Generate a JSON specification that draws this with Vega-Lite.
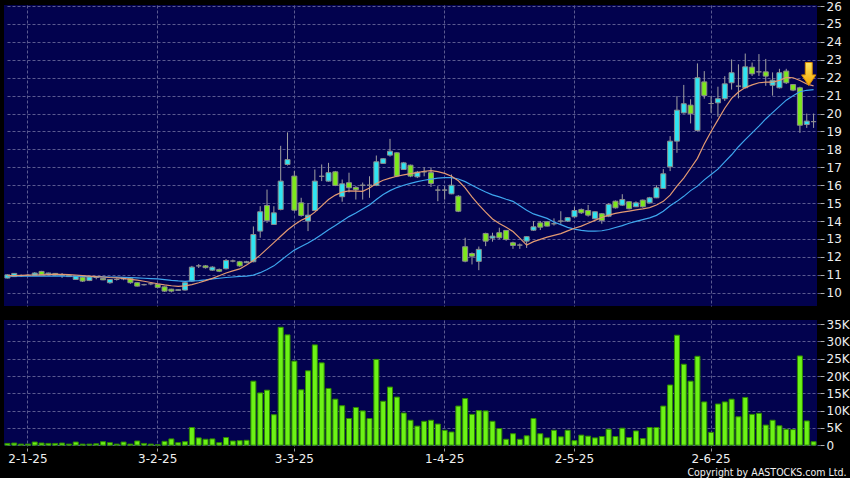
{
"$schema": "https://vega.github.io/schema/vega-lite/v6.json",
"background": "#000000",
"padding": {"left": 4, "top": 0, "right": 0, "bottom": 0},
"spacing": 12,
"config": {
  "view": {"fill": "#02024e", "stroke": null},
  "font": "DejaVu Sans",
  "axisY": {"labelOverlap": false, "labelBound": false, "grid": true, "gridColor": "#5a5a90", "gridDash": [3,2], "domain": false, "tickColor": "#b0b0b0", "tickSize": 4, "offset": 3, "labelPadding": 2, "labelColor": "#eeeeee", "labelFontSize": 12, "labelFont": "DejaVu Sans"}
},
"data": {"values": [
{"d":"27-12-24","o":10.82,"h":11.03,"l":10.8,"c":11.0,"v":500,"m10":10.95,"m20":10.93},
{"d":"30-12-24","o":10.9,"h":11.1,"l":10.88,"c":11.08,"v":600,"m10":10.96,"m20":10.93},
{"d":"31-12-24","o":10.95,"h":11.02,"l":10.88,"c":10.95,"v":300,"m10":10.97,"m20":10.93},
{"d":"2-1-25","o":10.97,"h":11.05,"l":10.92,"c":10.97,"v":300,"m10":10.98,"m20":10.93},
{"d":"3-1-25","o":10.97,"h":11.15,"l":10.95,"c":11.1,"v":900,"m10":10.99,"m20":10.93},
{"d":"6-1-25","o":11.19,"h":11.22,"l":10.98,"c":11.0,"v":600,"m10":11.0,"m20":10.93},
{"d":"7-1-25","o":11.05,"h":11.12,"l":11.0,"c":11.1,"v":500,"m10":11.01,"m20":10.93},
{"d":"8-1-25","o":11.08,"h":11.1,"l":10.95,"c":10.98,"v":500,"m10":11.02,"m20":10.93},
{"d":"9-1-25","o":10.97,"h":11.1,"l":10.83,"c":10.97,"v":600,"m10":11.02,"m20":10.93},
{"d":"10-1-25","o":10.97,"h":11.0,"l":10.88,"c":10.9,"v":300,"m10":11.01,"m20":10.92},
{"d":"13-1-25","o":10.74,"h":10.95,"l":10.72,"c":10.93,"v":900,"m10":10.99,"m20":10.92},
{"d":"14-1-25","o":10.87,"h":10.9,"l":10.6,"c":10.65,"v":300,"m10":10.96,"m20":10.91},
{"d":"15-1-25","o":10.68,"h":10.9,"l":10.65,"c":10.88,"v":300,"m10":10.93,"m20":10.9},
{"d":"16-1-25","o":10.85,"h":10.95,"l":10.75,"c":10.85,"v":400,"m10":10.9,"m20":10.9},
{"d":"17-1-25","o":10.8,"h":10.82,"l":10.7,"c":10.72,"v":1000,"m10":10.88,"m20":10.89},
{"d":"20-1-25","o":10.56,"h":10.76,"l":10.5,"c":10.74,"v":700,"m10":10.85,"m20":10.88},
{"d":"21-1-25","o":10.74,"h":10.8,"l":10.68,"c":10.74,"v":300,"m10":10.83,"m20":10.87},
{"d":"22-1-25","o":10.78,"h":10.85,"l":10.7,"c":10.78,"v":900,"m10":10.8,"m20":10.86},
{"d":"23-1-25","o":10.81,"h":10.85,"l":10.5,"c":10.56,"v":300,"m10":10.75,"m20":10.85},
{"d":"24-1-25","o":10.56,"h":10.58,"l":10.35,"c":10.37,"v":1200,"m10":10.7,"m20":10.83},
{"d":"27-1-25","o":10.45,"h":10.5,"l":10.4,"c":10.45,"v":500,"m10":10.64,"m20":10.81},
{"d":"28-1-25","o":10.5,"h":10.55,"l":10.42,"c":10.5,"v":300,"m10":10.57,"m20":10.79},
{"d":"3-2-25","o":10.47,"h":10.5,"l":10.25,"c":10.3,"v":100,"m10":10.5,"m20":10.77},
{"d":"4-2-25","o":10.33,"h":10.35,"l":10.05,"c":10.09,"v":1100,"m10":10.44,"m20":10.73},
{"d":"5-2-25","o":10.2,"h":10.22,"l":10.02,"c":10.09,"v":1800,"m10":10.39,"m20":10.69},
{"d":"6-2-25","o":10.13,"h":10.2,"l":10.1,"c":10.17,"v":700,"m10":10.36,"m20":10.66},
{"d":"7-2-25","o":10.15,"h":10.6,"l":10.12,"c":10.56,"v":1000,"m10":10.38,"m20":10.64},
{"d":"10-2-25","o":10.65,"h":11.5,"l":10.6,"c":11.43,"v":5100,"m10":10.45,"m20":10.66},
{"d":"11-2-25","o":11.5,"h":11.6,"l":11.38,"c":11.5,"v":2100,"m10":10.56,"m20":10.68},
{"d":"12-2-25","o":11.5,"h":11.55,"l":11.35,"c":11.4,"v":1700,"m10":10.68,"m20":10.72},
{"d":"13-2-25","o":11.26,"h":11.48,"l":11.22,"c":11.43,"v":1800,"m10":10.8,"m20":10.77},
{"d":"14-2-25","o":11.3,"h":11.35,"l":11.15,"c":11.2,"v":700,"m10":10.95,"m20":10.81},
{"d":"17-2-25","o":11.34,"h":11.88,"l":11.3,"c":11.8,"v":2200,"m10":11.1,"m20":10.85},
{"d":"18-2-25","o":11.77,"h":11.85,"l":11.7,"c":11.77,"v":1200,"m10":11.22,"m20":10.88},
{"d":"19-2-25","o":11.73,"h":11.78,"l":11.45,"c":11.5,"v":1300,"m10":11.33,"m20":10.91},
{"d":"20-2-25","o":11.68,"h":11.78,"l":11.65,"c":11.73,"v":1400,"m10":11.55,"m20":10.93},
{"d":"21-2-25","o":11.73,"h":13.7,"l":11.7,"c":13.25,"v":18500,"m10":11.8,"m20":10.98},
{"d":"24-2-25","o":13.44,"h":14.83,"l":13.07,"c":14.52,"v":15100,"m10":12.1,"m20":11.12},
{"d":"25-2-25","o":14.87,"h":15.76,"l":13.9,"c":14.03,"v":15900,"m10":12.45,"m20":11.3},
{"d":"26-2-25","o":13.81,"h":14.83,"l":13.8,"c":14.46,"v":8800,"m10":12.8,"m20":11.5},
{"d":"27-2-25","o":14.65,"h":18.2,"l":14.6,"c":16.23,"v":34100,"m10":13.15,"m20":11.8},
{"d":"28-2-25","o":17.16,"h":18.95,"l":17.1,"c":17.43,"v":31900,"m10":13.5,"m20":12.1},
{"d":"3-3-25","o":16.51,"h":16.79,"l":14.55,"c":14.61,"v":24300,"m10":13.8,"m20":12.38},
{"d":"4-3-25","o":15.02,"h":15.3,"l":14.25,"c":14.31,"v":16000,"m10":14.05,"m20":12.58},
{"d":"5-3-25","o":14.0,"h":15.0,"l":13.44,"c":14.33,"v":21500,"m10":14.22,"m20":12.78},
{"d":"6-3-25","o":14.59,"h":16.88,"l":14.55,"c":16.23,"v":29000,"m10":14.5,"m20":13.0},
{"d":"7-3-25","o":16.5,"h":17.16,"l":16.23,"c":16.5,"v":23800,"m10":14.85,"m20":13.25},
{"d":"10-3-25","o":16.23,"h":17.25,"l":16.2,"c":16.7,"v":16400,"m10":15.2,"m20":13.52},
{"d":"11-3-25","o":16.75,"h":16.8,"l":15.95,"c":15.99,"v":13300,"m10":15.45,"m20":13.75},
{"d":"12-3-25","o":15.36,"h":16.32,"l":15.08,"c":16.08,"v":11400,"m10":15.62,"m20":14.0},
{"d":"13-3-25","o":16.14,"h":16.7,"l":15.6,"c":15.86,"v":7700,"m10":15.68,"m20":14.25},
{"d":"14-3-25","o":15.88,"h":15.95,"l":15.2,"c":15.75,"v":10900,"m10":15.67,"m20":14.45},
{"d":"17-3-25","o":16.0,"h":16.15,"l":15.2,"c":16.0,"v":9900,"m10":15.66,"m20":14.68},
{"d":"18-3-25","o":16.0,"h":16.5,"l":15.3,"c":16.0,"v":7700,"m10":15.85,"m20":14.9},
{"d":"19-3-25","o":15.99,"h":17.66,"l":15.95,"c":17.31,"v":24800,"m10":16.1,"m20":15.2},
{"d":"20-3-25","o":17.22,"h":17.52,"l":17.2,"c":17.48,"v":12700,"m10":16.28,"m20":15.48},
{"d":"21-3-25","o":17.68,"h":18.59,"l":17.6,"c":17.9,"v":16800,"m10":16.4,"m20":15.7},
{"d":"24-3-25","o":17.81,"h":17.85,"l":16.45,"c":16.51,"v":13900,"m10":16.5,"m20":15.87},
{"d":"25-3-25","o":16.88,"h":17.3,"l":16.85,"c":17.25,"v":9300,"m10":16.58,"m20":16.0},
{"d":"26-3-25","o":17.12,"h":17.15,"l":16.45,"c":16.51,"v":7200,"m10":16.65,"m20":16.1},
{"d":"27-3-25","o":16.47,"h":16.8,"l":16.4,"c":16.73,"v":5500,"m10":16.7,"m20":16.2},
{"d":"28-3-25","o":16.75,"h":17.0,"l":16.5,"c":16.75,"v":6900,"m10":16.78,"m20":16.28},
{"d":"29-3-25","o":16.7,"h":17.0,"l":15.9,"c":16.1,"v":7200,"m10":16.82,"m20":16.34},
{"d":"31-3-25","o":15.73,"h":15.95,"l":15.11,"c":15.73,"v":6100,"m10":16.76,"m20":16.4},
{"d":"1-4-25","o":15.73,"h":15.95,"l":15.2,"c":15.73,"v":4300,"m10":16.66,"m20":16.42},
{"d":"2-4-25","o":15.52,"h":16.6,"l":15.5,"c":16.0,"v":3800,"m10":16.5,"m20":16.42},
{"d":"3-4-25","o":15.39,"h":15.45,"l":14.5,"c":14.55,"v":11300,"m10":16.25,"m20":16.35},
{"d":"7-4-25","o":12.57,"h":13.07,"l":11.7,"c":11.76,"v":13500,"m10":15.85,"m20":16.2},
{"d":"8-4-25","o":12.19,"h":12.25,"l":11.58,"c":12.04,"v":8900,"m10":15.35,"m20":16.0},
{"d":"9-4-25","o":11.75,"h":12.58,"l":11.26,"c":12.42,"v":10000,"m10":14.9,"m20":15.8},
{"d":"10-4-25","o":13.31,"h":13.35,"l":12.6,"c":12.88,"v":9900,"m10":14.5,"m20":15.62},
{"d":"11-4-25","o":13.05,"h":13.35,"l":12.85,"c":13.16,"v":6900,"m10":14.12,"m20":15.46},
{"d":"14-4-25","o":13.35,"h":13.63,"l":13.0,"c":13.07,"v":4800,"m10":13.86,"m20":15.35},
{"d":"15-4-25","o":13.48,"h":13.5,"l":12.9,"c":12.97,"v":1700,"m10":13.65,"m20":15.22},
{"d":"16-4-25","o":12.79,"h":12.85,"l":12.45,"c":12.64,"v":3300,"m10":13.42,"m20":15.1},
{"d":"17-4-25","o":12.66,"h":12.75,"l":12.45,"c":12.66,"v":1700,"m10":13.05,"m20":14.85},
{"d":"22-4-25","o":12.88,"h":13.15,"l":12.5,"c":13.13,"v":2700,"m10":12.66,"m20":14.6},
{"d":"23-4-25","o":13.49,"h":14.0,"l":13.45,"c":13.68,"v":7700,"m10":12.85,"m20":14.4},
{"d":"24-4-25","o":13.9,"h":14.0,"l":13.5,"c":13.66,"v":3300,"m10":12.98,"m20":14.28},
{"d":"25-4-25","o":13.96,"h":14.0,"l":13.7,"c":13.72,"v":2100,"m10":13.1,"m20":14.15},
{"d":"28-4-25","o":13.85,"h":14.15,"l":13.75,"c":13.85,"v":4300,"m10":13.2,"m20":13.95},
{"d":"29-4-25","o":14.0,"h":14.55,"l":13.85,"c":14.0,"v":2400,"m10":13.3,"m20":13.8},
{"d":"30-4-25","o":14.0,"h":14.22,"l":13.95,"c":14.19,"v":4300,"m10":13.45,"m20":13.65},
{"d":"2-5-25","o":14.24,"h":14.8,"l":14.2,"c":14.59,"v":1300,"m10":13.6,"m20":13.55},
{"d":"6-5-25","o":14.65,"h":14.7,"l":14.4,"c":14.46,"v":2900,"m10":13.72,"m20":13.48},
{"d":"7-5-25","o":14.59,"h":14.9,"l":14.25,"c":14.33,"v":2600,"m10":13.88,"m20":13.44},
{"d":"8-5-25","o":14.13,"h":14.55,"l":14.1,"c":14.52,"v":2100,"m10":14.04,"m20":13.44},
{"d":"9-5-25","o":14.41,"h":14.45,"l":13.85,"c":14.03,"v":2500,"m10":14.2,"m20":13.46},
{"d":"12-5-25","o":14.27,"h":15.0,"l":14.22,"c":14.93,"v":4600,"m10":14.33,"m20":13.53},
{"d":"13-5-25","o":15.11,"h":15.15,"l":14.7,"c":14.74,"v":2500,"m10":14.43,"m20":13.64},
{"d":"14-5-25","o":14.89,"h":15.5,"l":14.85,"c":15.2,"v":4900,"m10":14.5,"m20":13.75},
{"d":"15-5-25","o":15.08,"h":15.12,"l":14.65,"c":14.69,"v":2200,"m10":14.56,"m20":13.88},
{"d":"16-5-25","o":14.8,"h":15.1,"l":14.78,"c":15.02,"v":4100,"m10":14.62,"m20":13.98},
{"d":"19-5-25","o":15.17,"h":15.2,"l":14.75,"c":14.8,"v":1900,"m10":14.68,"m20":14.08},
{"d":"20-5-25","o":15.02,"h":15.35,"l":15.0,"c":15.3,"v":5100,"m10":14.75,"m20":14.18},
{"d":"21-5-25","o":15.3,"h":16.0,"l":15.28,"c":15.86,"v":5100,"m10":14.9,"m20":14.32},
{"d":"22-5-25","o":15.82,"h":16.9,"l":15.8,"c":16.64,"v":11300,"m10":15.1,"m20":14.55},
{"d":"23-5-25","o":17.03,"h":18.74,"l":16.79,"c":18.46,"v":17400,"m10":15.45,"m20":14.85},
{"d":"26-5-25","o":18.46,"h":20.97,"l":17.81,"c":20.19,"v":31800,"m10":15.95,"m20":15.1},
{"d":"27-5-25","o":20.04,"h":21.6,"l":20.0,"c":20.55,"v":23400,"m10":16.4,"m20":15.38},
{"d":"28-5-25","o":20.47,"h":20.8,"l":19.45,"c":19.99,"v":18500,"m10":16.95,"m20":15.7},
{"d":"29-5-25","o":19.06,"h":22.8,"l":19.0,"c":22.0,"v":25700,"m10":17.5,"m20":15.95},
{"d":"30-5-25","o":21.77,"h":22.37,"l":20.83,"c":21.01,"v":12500,"m10":18.3,"m20":16.3},
{"d":"2-6-25","o":20.56,"h":20.97,"l":20.04,"c":20.56,"v":3700,"m10":19.0,"m20":16.6},
{"d":"3-6-25","o":20.6,"h":21.5,"l":19.82,"c":20.83,"v":11900,"m10":19.65,"m20":16.9},
{"d":"4-6-25","o":20.83,"h":22.09,"l":20.7,"c":21.66,"v":12500,"m10":20.3,"m20":17.3},
{"d":"5-6-25","o":21.72,"h":23.02,"l":21.34,"c":22.28,"v":13300,"m10":20.85,"m20":17.7},
{"d":"6-6-25","o":21.53,"h":22.75,"l":20.85,"c":21.53,"v":8200,"m10":21.2,"m20":18.15},
{"d":"9-6-25","o":21.44,"h":23.35,"l":21.4,"c":22.61,"v":13800,"m10":21.45,"m20":18.55},
{"d":"10-6-25","o":22.59,"h":22.85,"l":22.1,"c":22.22,"v":8900,"m10":21.6,"m20":18.92},
{"d":"11-6-25","o":22.33,"h":23.32,"l":22.1,"c":22.33,"v":9200,"m10":21.72,"m20":19.3},
{"d":"12-6-25","o":22.33,"h":23.05,"l":21.55,"c":22.09,"v":5800,"m10":21.75,"m20":19.7},
{"d":"13-6-25","o":21.58,"h":22.3,"l":21.0,"c":21.86,"v":7200,"m10":21.75,"m20":20.05},
{"d":"16-6-25","o":21.44,"h":22.5,"l":21.4,"c":22.28,"v":5600,"m10":21.85,"m20":20.4},
{"d":"17-6-25","o":22.37,"h":22.5,"l":21.65,"c":21.72,"v":4600,"m10":22.02,"m20":20.75},
{"d":"18-6-25","o":21.62,"h":21.65,"l":21.25,"c":21.31,"v":4500,"m10":22.0,"m20":21.0},
{"d":"19-6-25","o":21.44,"h":21.5,"l":18.93,"c":19.35,"v":25800,"m10":21.85,"m20":21.22},
{"d":"20-6-25","o":19.39,"h":20.0,"l":19.2,"c":19.58,"v":7000,"m10":21.65,"m20":21.3,"ar":22.21},
{"d":"23-6-25","o":19.55,"h":20.0,"l":19.2,"c":19.55,"v":1000,"m10":21.55,"m20":21.34}
]},
"vconcat": [
  {
    "width": 813,
    "height": 301,
    "encoding": {
      "x": {"field": "d", "type": "ordinal", "sort": null, "title": null,
        "scale": {"paddingInner": 0, "paddingOuter": 0},
        "axis": {"values": ["2-1-25","3-2-25","3-3-25","1-4-25","2-5-25","2-6-25"], "labels": false, "ticks": false, "domain": false, "grid": true, "gridColor": "#5a5a90", "gridDash": [3,2], "gridWidth": 1}}
    },
    "layer": [
      {"mark": {"type": "rule", "color": "#a0a0a0", "strokeWidth": 1},
       "encoding": {
         "y": {"field": "l", "type": "quantitative", "title": null,
           "scale": {"domain": [9.26, 26.06], "nice": false, "zero": false},
           "axis": {"orient": "right", "values": [10,11,12,13,14,15,16,17,18,19,20,21,22,23,24,25,26]}},
         "y2": {"field": "h"}
       }},
      {"mark": {"type": "bar", "width": 5, "stroke": "#8c8c8c", "strokeWidth": 1},
       "encoding": {
         "y": {"field": "o", "type": "quantitative", "title": null, "axis": {"orient": "right", "values": [10,11,12,13,14,15,16,17,18,19,20,21,22,23,24,25,26]}},
         "y2": {"field": "c"},
         "fill": {"condition": [{"test": "datum.c > datum.o", "value": "#2fe4f2"}, {"test": "datum.c < datum.o", "value": "#7de81c"}], "value": "#8c8c8c"}
       }},
      {"mark": {"type": "line", "color": "#3ea6ee", "strokeWidth": 1.2},
       "encoding": {"y": {"field": "m20", "type": "quantitative", "title": null, "axis": {"orient": "right", "values": [10,11,12,13,14,15,16,17,18,19,20,21,22,23,24,25,26]}}}},
      {"mark": {"type": "line", "color": "#e39a72", "strokeWidth": 1.2},
       "encoding": {"y": {"field": "m10", "type": "quantitative", "title": null, "axis": {"orient": "right", "values": [10,11,12,13,14,15,16,17,18,19,20,21,22,23,24,25,26]}}}},
      {"mark": {"type": "point", "shape": "M-0.3,-1L0.3,-1L0.3,0.08L0.62,0.08L0,1L-0.62,0.08L-0.3,0.08Z", "size": 530, "filled": true, "opacity": 1, "xOffset": 2,
         "fill": {"x1": 0, "y1": 0, "x2": 0, "y2": 1, "gradient": "linear", "stops": [{"offset": 0, "color": "#ffe865"}, {"offset": 1, "color": "#f3a400"}]},
         "stroke": "#d98c00", "strokeWidth": 1},
       "encoding": {"y": {"field": "ar", "type": "quantitative", "title": null, "axis": {"orient": "right", "values": [10,11,12,13,14,15,16,17,18,19,20,21,22,23,24,25,26]}}}}
    ]
  },
  {
    "width": 813,
    "height": 126,
    "mark": {"type": "bar", "width": 5, "fill": "#6cf216", "stroke": "#2f8a00", "strokeWidth": 1},
    "encoding": {
      "x": {"field": "d", "type": "ordinal", "sort": null, "title": "Copyright by AASTOCKS.com Ltd.",
        "scale": {"paddingInner": 0, "paddingOuter": 0},
        "axis": {"values": ["2-1-25","3-2-25","3-3-25","1-4-25","2-5-25","2-6-25"], "labelAngle": 0, "labelColor": "#f0f0f0", "labelFontSize": 12, "labelFont": "DejaVu Sans", "labelPadding": 2, "tickColor": "#9a9a9a", "tickSize": 3, "offset": 2, "domain": false, "grid": true, "gridColor": "#5a5a90", "gridDash": [3,2],
          "titleColor": "#f0f0f0", "titleFont": "DejaVu Sans Condensed", "titleFontSize": 10.5, "titleFontWeight": "normal", "titleAnchor": "end", "titleAlign": "right", "titleX": 842, "titleY": 24, "titleBaseline": "middle"}},
      "y": {"field": "v", "type": "quantitative", "title": null,
        "scale": {"domain": [-250, 36200], "nice": false, "zero": false},
        "axis": {"orient": "right", "values": [0,5000,10000,15000,20000,25000,30000,35000], "labelExpr": "datum.value == 0 ? '0' : format(datum.value/1000, 'd') + 'K'"}},
      "y2": {"datum": 0}
    }
  }
]
}
